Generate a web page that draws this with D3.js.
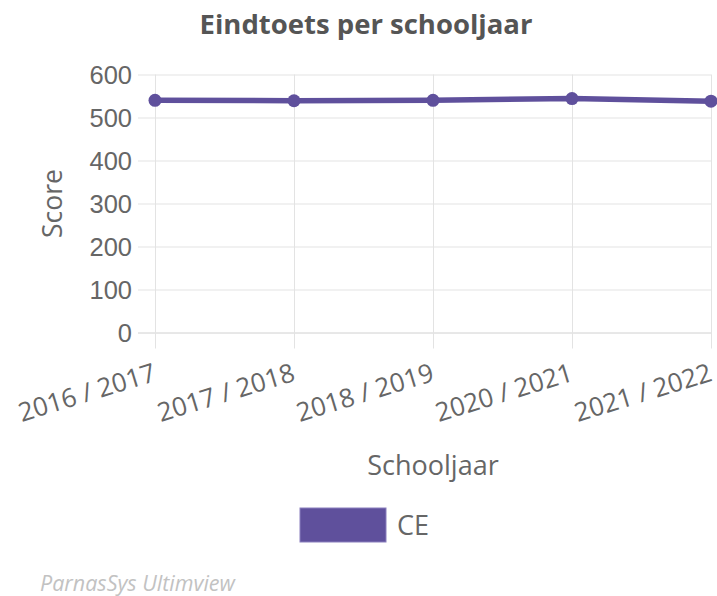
<!DOCTYPE html>
<html>
<head>
<meta charset="utf-8">
<script src="https://cdn.jsdelivr.net/npm/d3@7"></script>
<style>
    body { margin: 0; background: #fff; }
    svg { font-family: "Open Sans", sans-serif; }
</style>
</head>
<body>
<div id="chart"></div>
<script>
// data
const schooljaren = ['2016 / 2017', '2017 / 2018', '2018 / 2019', '2020 / 2021', '2021 / 2022'];
const scores = [540, 539, 540, 544, 538];
const yTicks = [0, 100, 200, 300, 400, 500, 600];
const seriesName = 'CE';

const WIDTH = 717;
const HEIGHT = 596;
const COLOR = '#5f509c';
const TEXT = '#666';
const GRID = '#e3e3e3';

let margin = { top: 74.5, right: 6, bottom: 263.5, left: 155 };
let plotW = WIDTH - margin.left - margin.right;
let plotH = HEIGHT - margin.top - margin.bottom;
let tickLen = 17;

let svg = d3.select('#chart').append('svg')
    .attr('width', WIDTH)
    .attr('height', HEIGHT);

let x = d3.scalePoint()
    .domain(schooljaren)
    .range([margin.left, margin.left + plotW]);

let y = d3.scaleLinear()
    .domain([0, 600])
    .range([margin.top + plotH, margin.top]);

// horizontal grid + y ticks (one axis drawn from the right edge)
let yAxis = svg.append('g')
    .attr('transform', `translate(${margin.left + plotW}, 0)`)
    .call(d3.axisLeft(y).tickValues(yTicks).tickSize(plotW + tickLen).tickPadding(6));
yAxis.select('.domain').remove();
yAxis.selectAll('line').attr('stroke', d => d === 0 ? '#d0d0d0' : GRID);
yAxis.selectAll('text')
    .attr('fill', TEXT)
    .style('font-size', '25.5px')
    .attr('dy', '0.35em');

// vertical grid + x ticks
let xAxis = svg.append('g')
    .attr('transform', `translate(0, ${margin.top})`)
    .call(d3.axisBottom(x).tickSize(plotH + 16).tickFormat(''));
xAxis.select('.domain').remove();
xAxis.selectAll('line').attr('stroke', GRID);

// rotated x labels
svg.append('g').selectAll('.x-label')
    .data(schooljaren)
    .enter().append('text')
    .attr('class', 'x-label')
    .attr('transform', d => `translate(${x(d) - 3}, ${margin.top + plotH + 30}) rotate(-17)`)
    .attr('text-anchor', 'end')
    .attr('dy', '0.72em')
    .attr('fill', TEXT)
    .style('font-size', '26px')
    .text(d => d);

// the line
let line = d3.line()
    .x((d, i) => x(schooljaren[i]))
    .y(d => y(d));

svg.append('path')
    .datum(scores)
    .attr('d', line)
    .attr('fill', 'none')
    .attr('stroke', COLOR)
    .attr('stroke-width', 5.5)
    .attr('stroke-linejoin', 'round');

svg.selectAll('.point')
    .data(scores)
    .enter().append('circle')
    .attr('class', 'point')
    .attr('cx', (d, i) => x(schooljaren[i]))
    .attr('cy', d => y(d))
    .attr('r', 6.5)
    .attr('fill', COLOR);

// titles
svg.append('text')
    .attr('x', 366)
    .attr('y', 34)
    .attr('text-anchor', 'middle')
    .attr('fill', '#555')
    .style('font-size', '27.5px')
    .style('font-weight', 'bold')
    .text('Eindtoets per schooljaar');

svg.append('text')
    .attr('transform', `translate(62, ${margin.top + plotH / 2}) rotate(-90)`)
    .attr('text-anchor', 'middle')
    .attr('fill', TEXT)
    .style('font-size', '26.5px')
    .text('Score');

svg.append('text')
    .attr('x', margin.left + plotW / 2)
    .attr('y', 475)
    .attr('text-anchor', 'middle')
    .attr('fill', TEXT)
    .style('font-size', '27px')
    .text('Schooljaar');

// legend
let legend = svg.append('g');
legend.append('rect')
    .attr('x', 300)
    .attr('y', 508)
    .attr('width', 86)
    .attr('height', 34)
    .attr('fill', COLOR)
    .attr('stroke', '#8a7fbd')
    .attr('stroke-width', 1);
legend.append('text')
    .attr('x', 397)
    .attr('y', 535)
    .attr('fill', TEXT)
    .style('font-size', '27px')
    .text(seriesName);

// footer
svg.append('text')
    .attr('x', 40)
    .attr('y', 591)
    .attr('fill', '#c2c2c2')
    .style('font-size', '21.5px')
    .style('font-style', 'italic')
    .text('ParnasSys Ultimview');
</script>
</body>
</html>
